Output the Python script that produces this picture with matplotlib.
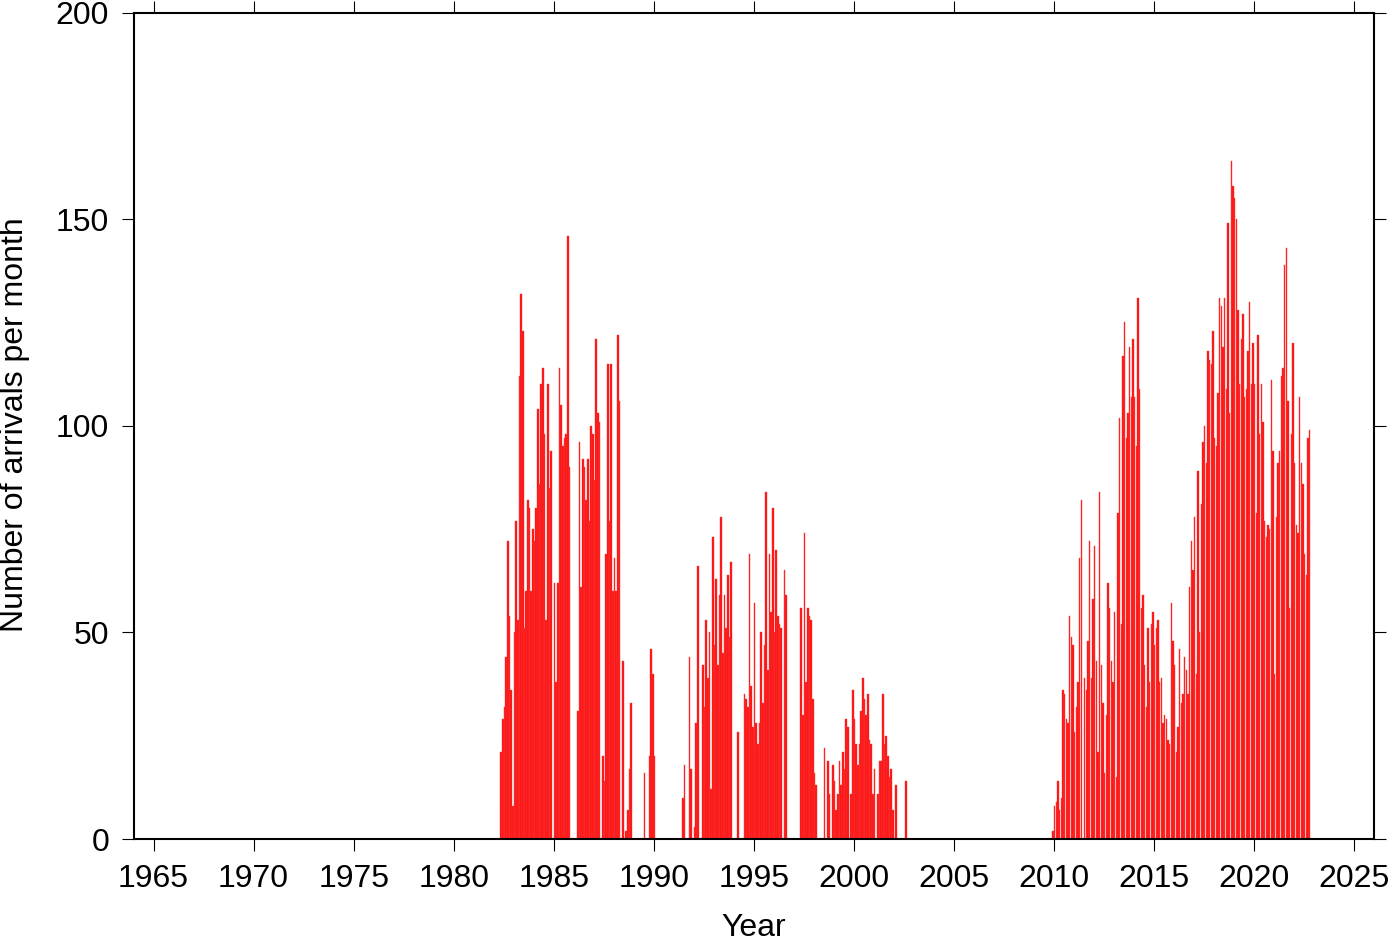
import matplotlib
matplotlib.use("Agg")
import matplotlib.pyplot as plt
import numpy as np

plt.rcParams['font.family'] = ['Liberation Sans', 'DejaVu Sans']

# monthly arrival counts, each episode starts at the given (year, month)
start_1982 = (1982, 5)
counts_1982 = [21, 29, 32, 44, 72, 54, 36, 8, 50, 77, 53, 112,
               132, 123, 51, 60, 82, 80, 60, 75, 72, 80, 104, 86,
               110, 114, 98, 53, 110, 85, 94, 0, 62, 38, 62, 114,
               105, 95, 97, 98, 146, 90, 0, 0, 0, 0, 31, 96,
               61, 92, 90, 82, 92, 77, 100, 98, 87, 121, 103, 101,
               0, 20, 14, 69, 115, 77, 115, 60, 68, 60, 122, 106,
               0, 43, 0, 2, 7, 17, 33]

start_1989 = (1989, 7)
counts_1989 = [16, 0, 0, 20, 46, 40, 20]

start_1991 = (1991, 6)
counts_1991 = [10, 18, 0, 0, 44, 17, 0,
               3, 28, 66, 0, 0, 42, 32, 53, 39, 50, 12, 73,
               47, 63, 42, 59, 78, 45, 59, 51, 64, 49, 67, 0,
               0, 0, 26, 0, 0, 0, 35, 34, 32, 69, 37, 27,
               57, 28, 23, 28, 50, 33, 47, 84, 41, 69, 55, 80,
               50, 70, 54, 52, 51, 0, 65, 59]

start_1997 = (1997, 5)
counts_1997 = [56, 30, 74, 38, 56, 54, 53, 34, 16, 13]

start_1998 = (1998, 7)
counts_1998 = [22, 0, 19, 11, 0, 18,
               14, 7, 11, 19, 13, 21, 17, 29, 27, 0, 11, 36,
               29, 23, 18, 23, 31, 39, 34, 30, 35, 24, 23, 11,
               17, 0, 11, 19, 19, 35, 23, 25, 20, 15, 17, 7,
               0, 13, 0, 0, 0, 0, 0, 14]

start_2009 = (2009, 12)
counts_2009 = [2,
               8, 9, 14, 7, 10, 36, 35, 29, 28, 54, 49, 47,
               26, 32, 38, 68, 82, 0, 39, 36, 48, 72, 39, 58,
               71, 43, 21, 84, 42, 33, 16, 30, 62, 56, 43, 38,
               55, 15, 79, 102, 52, 117, 125, 97, 103, 119, 107, 121,
               107, 95, 131, 109, 56, 59, 42, 32, 51, 38, 52, 55,
               47, 51, 53, 38, 39, 28, 30, 29, 24, 23, 57, 48,
               42, 21, 27, 46, 33, 35, 44, 41, 35, 61, 72, 65,
               78, 40, 89, 50, 81, 96, 100, 91, 118, 116, 115, 123,
               97, 95, 108, 131, 129, 119, 131, 109, 149, 103, 164, 158,
               155, 150, 128, 110, 121, 127, 107, 109, 118, 130, 110, 120,
               110, 79, 122, 98, 110, 101, 77, 73, 76, 75, 111, 94,
               40, 78, 91, 94, 112, 114, 139, 143, 106, 56, 98, 120,
               91, 76, 74, 107, 91, 86, 69, 64, 97, 99]

episodes = [(start_1982, counts_1982), (start_1989, counts_1989),
            (start_1991, counts_1991), (start_1997, counts_1997),
            (start_1998, counts_1998), (start_2009, counts_2009)]

x_ticks = list(range(1965, 2026, 5))
y_ticks = [0, 50, 100, 150, 200]

fig = plt.figure(figsize=(14, 9.42), dpi=100)
ax = fig.add_axes([0.0954, 0.1093, 0.886, 0.8774])

for (yr, mo), vals in episodes:
    t = yr + (mo - 1) / 12 + np.arange(len(vals)) / 12
    ax.bar(t, vals, width=0.9 / 12, align='edge', color='#fa1212',
           edgecolor='#ff3c3c', linewidth=0.3)

ax.set_xlim(1964, 2026)
ax.set_ylim(0, 200)
ax.set_xticks(x_ticks)
ax.set_yticks(y_ticks)
ax.tick_params(direction='out', length=8.6, width=0.8, labelsize=23,
               top=True, right=True, labeltop=False, labelright=False)
ax.tick_params(axis='x', pad=9.5)
ax.tick_params(axis='y', pad=9)
for s in ax.spines.values():
    s.set_linewidth(1.5)

fig.text(15 / 1400, 1 - 425 / 942, 'Number of arrivals per month', rotation=90,
         ha='center', va='center', fontsize=23)
fig.text(754 / 1400, 1 - 936 / 942, 'Year', ha='center', va='baseline', fontsize=23)

fig.savefig('out.png', dpi=100)
